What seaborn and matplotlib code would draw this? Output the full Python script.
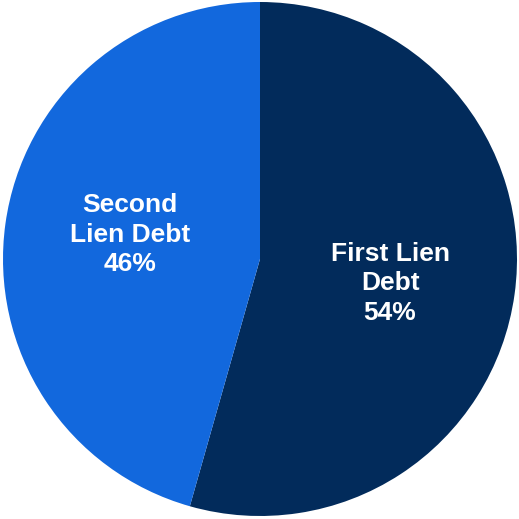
import numpy as np
import matplotlib
matplotlib.use("Agg")
import matplotlib.pyplot as plt
import seaborn as sns

categories = ["First Lien\nDebt", "Second\nLien Debt"]
values = [54.4, 45.6]
pct_labels = ["54%", "46%"]
colors = ["#022B5B", "#1268DD"]

sns.set_theme(style="white")
plt.rcParams['font.family'] = ['Liberation Sans', 'DejaVu Sans']

fig = plt.figure(figsize=(5.19, 5.19), dpi=100)
ax = fig.add_axes([3/519, 3/519, 514/519, 514/519])
wedges, _ = ax.pie(values, colors=colors, startangle=90, counterclock=False,
                   wedgeprops=dict(linewidth=0))
for w, cat, p in zip(wedges, categories, pct_labels):
    ang = np.deg2rad((w.theta1 + w.theta2) / 2 - 2.7)
    r = 0.515
    ax.text(r * np.cos(ang), r * np.sin(ang), f"{cat}\n{p}", ha="center", va="center",
            color="white", fontsize=19, fontweight="bold", linespacing=1.3)
ax.set_xlim(-1, 1)
ax.set_ylim(-1, 1)
ax.set_aspect("equal")
ax.axis("off")
fig.savefig("out.png", dpi=100)
